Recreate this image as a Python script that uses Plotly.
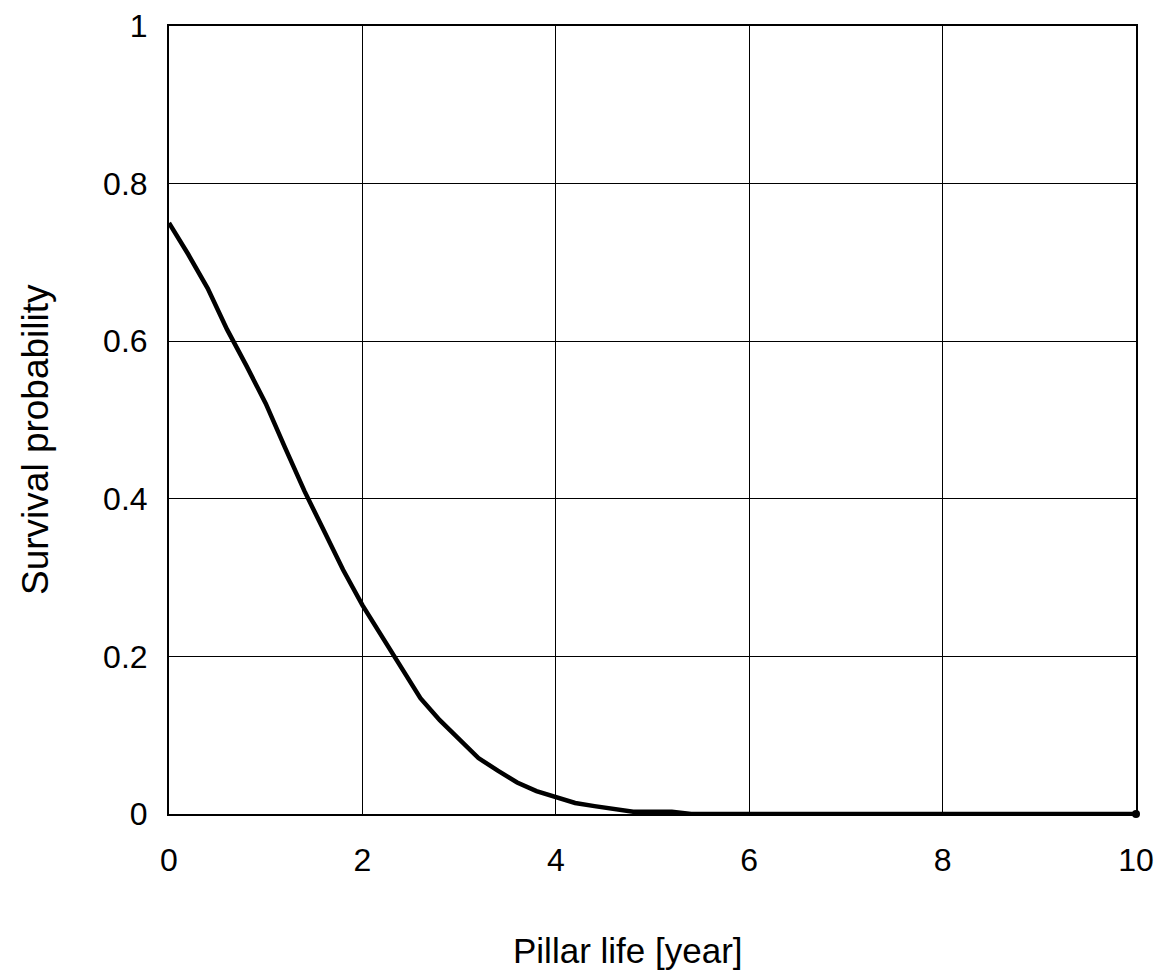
import plotly.graph_objects as go

life_years = [0, 0.2, 0.4, 0.6, 0.8, 1.0, 1.2, 1.4, 1.6, 1.8, 2.0, 2.2, 2.4, 2.6, 2.8,
              3.0, 3.2, 3.4, 3.6, 3.8, 4.0, 4.2, 4.4, 4.6, 4.8, 5.0, 5.2, 5.4, 10]
survival = [0.75, 0.71, 0.667, 0.615, 0.569, 0.521, 0.465, 0.41, 0.36, 0.31, 0.265,
            0.225, 0.185, 0.147, 0.119, 0.095, 0.071, 0.055, 0.04, 0.029, 0.021, 0.014,
            0.01, 0.007, 0.003, 0.003, 0.003, 0.0, 0.0]

x_ticks = [0, 2, 4, 6, 8, 10]
y_ticks = [0, 0.2, 0.4, 0.6, 0.8, 1]
y_tick_labels = ["0", "0.2", "0.4", "0.6", "0.8", "1"]
x_title = "Pillar life [year]"
y_title = "Survival probability"

fig = go.Figure()
fig.add_trace(go.Scatter(
    x=life_years, y=survival, mode="lines",
    line=dict(color="black", width=4.5),
    cliponaxis=False, showlegend=False,
))
fig.add_trace(go.Scatter(
    x=life_years[-1:], y=survival[-1:], mode="markers",
    marker=dict(color="black", size=8),
    cliponaxis=False, showlegend=False,
))

font = "Liberation Sans, Arial, sans-serif"
fig.update_layout(
    template="none",
    width=1159, height=976,
    margin=dict(l=169, r=23, t=26, b=162),
    paper_bgcolor="white", plot_bgcolor="white",
    font=dict(family=font, size=32, color="black"),
    xaxis=dict(
        range=[0, 10], tickvals=x_ticks, ticktext=[str(v) for v in x_ticks],
        showgrid=True, gridcolor="black", gridwidth=1,
        showline=True, linecolor="black", linewidth=2, mirror=True,
        ticks="outside", ticklen=17, tickcolor="rgba(0,0,0,0)", zeroline=False,
        automargin=False, tickfont=dict(size=32),
    ),
    yaxis=dict(
        range=[0, 1], tickvals=y_ticks, ticktext=y_tick_labels,
        showgrid=True, gridcolor="black", gridwidth=1,
        showline=True, linecolor="black", linewidth=2, mirror=True,
        ticks="outside", ticklen=13, tickcolor="rgba(0,0,0,0)", zeroline=False,
        automargin=False, tickfont=dict(size=32),
    ),
    annotations=[
        dict(text=x_title, xref="paper", yref="paper", x=0.5, y=0,
             xanchor="center", yanchor="middle", xshift=-25, yshift=-136,
             showarrow=False, font=dict(size=35)),
        dict(text=y_title, xref="paper", yref="paper", x=0, y=0.5,
             xanchor="center", yanchor="middle", xshift=-134, yshift=-20,
             textangle=-90, showarrow=False, font=dict(size=37)),
    ],
)

fig.write_html("out.html")
